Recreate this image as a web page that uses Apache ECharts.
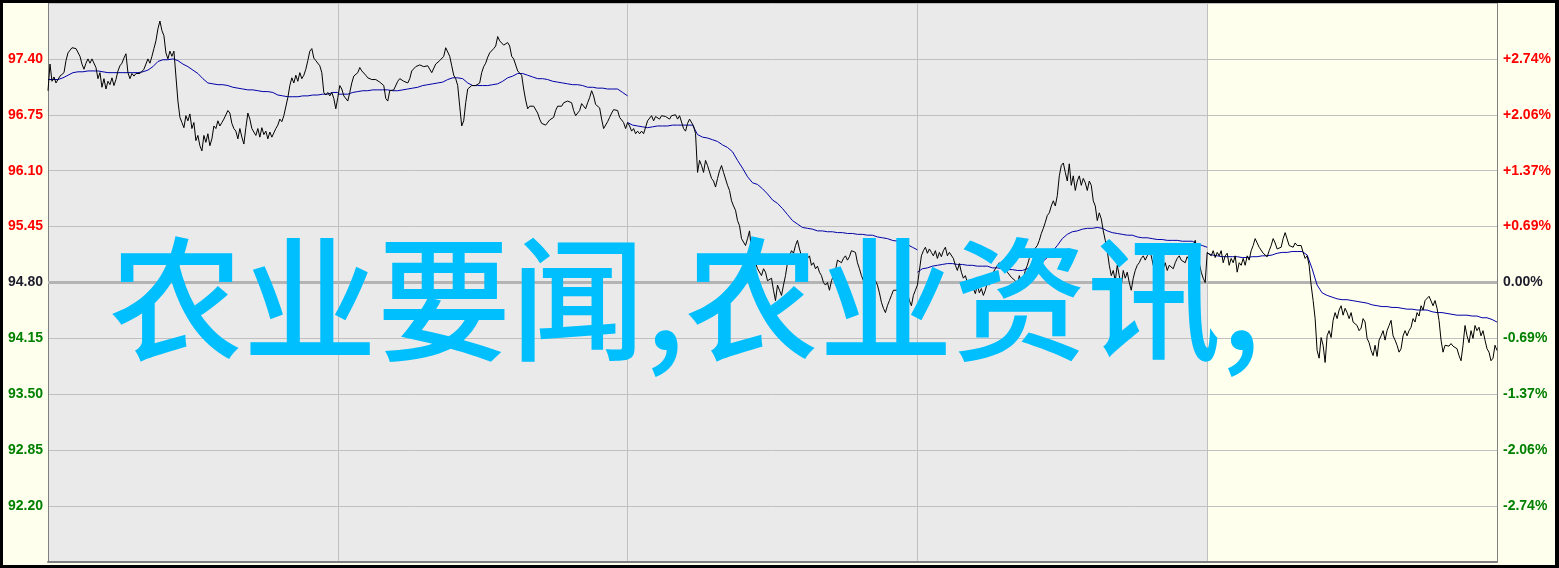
<!DOCTYPE html>
<html><head><meta charset="utf-8">
<script src="https://cdn.jsdelivr.net/npm/echarts@6/dist/echarts.min.js"></script>
<style>
html,body{margin:0;padding:0;background:#000;}
#frame{position:absolute;left:0;top:0;width:1559px;height:568px;background:#000;}
#chart{position:absolute;left:3px;top:3px;width:1552px;height:562px;background:#FFFFEE;}
</style></head><body>
<div id="frame"><div id="chart"></div></div>
<script>
const WATERMARK = '农业要闻,农业资讯,';
const PREV_CLOSE = 94.80;
const DAY_MINUTES = 240;
const PRICE_STEPS_PER_DAY = 145;
const AVG_STEPS_PER_DAY = 58;
const Y_MIN = 91.55, Y_MAX = 98.05, Y_STEP = 0.65;

const price_d1 = [97.03,97.34,97.14,97.19,97.12,97.12,97.20,97.18,97.24,97.38,
97.47,97.49,97.53,97.55,97.52,97.54,97.43,97.34,97.28,97.35,
97.40,97.35,97.40,97.38,97.30,97.17,97.24,97.07,97.17,97.05,
97.14,97.10,97.18,97.09,97.16,97.26,97.32,97.35,97.41,97.46,
97.24,97.17,97.23,97.20,97.23,97.23,97.23,97.23,97.28,97.34,
97.40,97.35,97.43,97.52,97.61,97.75,97.84,97.73,97.67,97.47,
97.40,97.49,97.43,97.49,97.47,96.91,96.72,96.66,96.60,96.74,
96.68,96.76,96.59,96.66,96.45,96.51,96.39,96.33,96.51,96.43,
96.53,96.39,96.47,96.62,96.59,96.68,96.62,96.66,96.70,96.72,
96.80,96.77,96.65,96.59,96.56,96.47,96.59,96.49,96.41,96.60,
96.77,96.70,96.59,96.61,96.51,96.59,96.49,96.60,96.52,96.56,
96.47,96.55,96.49,96.54,96.59,96.63,96.70,96.67,96.74,96.74,
96.95,97.09,97.18,97.12,97.21,97.14,97.24,97.17,97.21,97.28,
97.38,97.49,97.52,97.41,97.38,97.38,97.32,97.24,97.01,96.98,
97.01,96.97,97.01,96.94,96.82];
const price_d2 = [96.95,97.09,97.05,96.97,96.97,96.91,97.01,97.12,97.20,97.21,
97.24,97.30,97.26,97.25,97.21,97.18,97.17,97.16,97.16,97.16,
97.14,97.13,97.14,97.09,96.94,96.91,97.03,97.05,97.04,97.06,
97.14,97.17,97.18,97.14,97.14,97.12,97.17,97.26,97.28,97.31,
97.33,97.33,97.32,97.31,97.32,97.32,97.31,97.24,97.25,97.34,
97.35,97.38,97.40,97.43,97.53,97.54,97.43,97.32,97.21,97.17,
97.09,96.85,96.62,96.68,96.89,97.05,97.07,97.09,97.10,97.09,
97.07,97.12,97.24,97.31,97.35,97.42,97.47,97.48,97.52,97.55,
97.66,97.61,97.59,97.56,97.55,97.59,97.55,97.43,97.40,97.38,
97.26,97.24,97.21,97.05,96.92,96.82,96.85,96.87,96.85,96.83,
96.77,96.70,96.65,96.66,96.63,96.63,96.69,96.68,96.72,96.80,
96.85,96.83,96.85,96.89,96.90,96.91,96.92,96.89,96.80,96.74,
96.74,96.80,96.88,96.85,96.82,96.89,96.95,97.03,96.97,96.87,
96.85,96.83,96.70,96.59,96.61,96.67,96.72,96.77,96.81,96.83,
96.80,96.72,96.69,96.66,96.59];
const price_d3 = [96.66,96.62,96.56,96.59,96.53,96.56,96.53,96.56,96.53,96.55,
96.68,96.70,96.74,96.68,96.73,96.74,96.70,96.74,96.72,96.73,
96.74,96.70,96.74,96.73,96.75,96.70,96.74,96.74,96.59,96.56,
96.65,96.70,96.70,96.62,96.53,96.08,96.22,96.16,96.08,96.22,
96.16,96.18,96.01,95.98,95.91,96.01,96.10,96.16,96.08,96.10,
95.93,95.87,95.75,95.69,95.64,95.52,95.46,95.31,95.29,95.23,
95.31,95.40,95.17,95.11,95.03,94.96,94.94,94.88,94.96,94.92,
94.82,94.80,94.85,94.71,94.59,94.77,94.71,94.65,94.77,94.88,
95.03,95.11,95.17,95.14,95.23,95.29,95.19,95.11,95.08,95.06,
95.08,95.11,95.00,95.03,94.96,94.99,94.92,94.88,94.80,94.77,
94.80,94.71,94.82,94.88,94.94,95.06,95.08,95.03,95.08,95.11,
95.06,95.10,95.17,95.19,95.15,95.03,94.96,94.88,94.82,94.77,
94.82,94.79,94.80,94.85,94.82,94.77,94.68,94.57,94.50,94.45,
94.53,94.59,94.65,94.71,94.73,94.71,94.59,94.53,94.48,94.59,
94.68,94.59,94.53,94.65,94.71];
const price_d4 = [94.77,94.94,95.11,95.17,95.21,95.14,95.19,95.15,95.11,95.17,
95.08,95.15,95.10,95.17,95.21,95.11,95.15,95.17,95.08,95.00,
94.94,95.02,94.92,94.85,94.88,94.80,94.77,94.82,94.73,94.67,
94.77,94.68,94.73,94.65,94.71,94.80,94.77,94.85,94.92,94.96,
94.94,95.03,95.00,95.06,94.96,94.92,94.94,94.86,94.88,94.82,
94.77,94.88,94.80,94.85,94.94,95.00,95.08,95.11,95.17,95.19,
95.23,95.29,95.37,95.43,95.50,95.58,95.61,95.69,95.75,95.69,
95.81,96.04,96.16,96.19,96.08,95.98,96.18,95.93,96.04,95.87,
95.98,96.04,95.93,96.01,95.96,95.87,95.98,95.93,95.75,95.69,
95.52,95.61,95.54,95.40,95.29,95.17,95.00,94.88,94.94,94.82,
95.00,94.88,94.77,94.94,94.85,94.92,94.80,94.71,94.85,94.94,
95.00,95.03,95.08,95.11,95.06,95.11,95.15,95.11,95.00,95.08,
95.03,95.06,95.00,94.96,95.03,94.94,95.00,95.02,94.96,95.03,
95.08,95.11,95.06,95.08,95.03,95.10,95.06,95.08,95.23,95.29,
95.17,95.03,94.92,94.85,94.80];
const price_d5 = [95.15,95.17,95.11,95.17,95.09,95.15,95.11,95.17,95.03,95.11,
95.14,95.00,95.08,95.03,95.11,94.92,95.03,95.00,95.08,95.00,
95.11,95.06,95.17,95.23,95.31,95.26,95.21,95.23,95.14,95.15,
95.10,95.17,95.23,95.31,95.26,95.19,95.21,95.21,95.31,95.38,
95.40,95.23,95.25,95.21,95.26,95.23,95.21,95.23,95.15,95.08,
95.11,95.00,94.77,94.59,94.38,94.01,93.92,94.16,94.07,93.87,
94.18,94.24,94.16,94.36,94.45,94.38,94.48,94.53,94.42,94.50,
94.45,94.38,94.45,94.34,94.36,94.30,94.24,94.27,94.38,94.34,
94.15,94.10,94.01,93.95,94.07,93.94,94.13,94.18,94.24,94.13,
94.24,94.30,94.36,94.18,94.13,94.07,93.99,94.03,94.18,94.24,
94.18,94.24,94.28,94.38,94.34,94.45,94.41,94.53,94.48,94.59,
94.61,94.64,94.65,94.53,94.59,94.50,94.36,94.13,93.99,94.07,
94.08,94.06,94.09,94.06,94.08,94.03,93.95,93.89,94.07,94.30,
94.18,94.10,94.24,94.15,94.30,94.24,94.28,94.18,94.24,94.13,
94.03,93.99,93.89,93.92,94.07,94.01];

const avg_d1 = [97.16,97.16,97.16,97.18,97.21,97.24,97.25,97.25,97.26,97.26,
97.26,97.25,97.24,97.24,97.24,97.24,97.24,97.24,97.24,97.25,
97.27,97.31,97.37,97.39,97.39,97.40,97.38,97.34,97.31,97.27,
97.23,97.17,97.12,97.11,97.10,97.10,97.09,97.07,97.06,97.05,
97.04,97.04,97.03,97.02,97.02,97.01,96.98,96.97,96.96,96.96,
96.96,96.97,96.97,96.98,96.98,96.99,96.99,97.01,97.01];
const avg_d2 = [96.99,96.99,96.99,97.01,97.02,97.03,97.03,97.04,97.04,97.04,
97.04,97.03,97.03,97.04,97.05,97.06,97.07,97.09,97.10,97.11,
97.12,97.13,97.16,97.18,97.18,97.17,97.12,97.09,97.09,97.09,
97.09,97.10,97.11,97.14,97.18,97.20,97.23,97.23,97.21,97.19,
97.17,97.17,97.16,97.14,97.13,97.12,97.11,97.10,97.10,97.09,
97.07,97.07,97.06,97.06,97.05,97.05,97.05,97.01,96.97];
const avg_d3 = [96.66,96.63,96.62,96.61,96.60,96.61,96.62,96.62,96.62,96.63,
96.63,96.63,96.63,96.63,96.52,96.49,96.48,96.46,96.44,96.40,
96.37,96.32,96.22,96.13,96.03,95.96,95.94,95.89,95.83,95.76,
95.72,95.66,95.59,95.52,95.48,95.44,95.43,95.42,95.40,95.40,
95.39,95.39,95.38,95.38,95.37,95.37,95.36,95.36,95.35,95.35,
95.33,95.32,95.31,95.29,95.28,95.26,95.24,95.21,95.18];
const avg_d4 = [94.92,94.96,94.97,94.99,95.00,95.01,95.02,95.02,95.01,95.01,
95.00,95.00,94.99,94.99,94.99,94.97,94.97,94.96,94.95,94.95,
94.94,94.94,94.96,94.99,95.01,95.04,95.09,95.16,95.23,95.31,
95.36,95.39,95.40,95.42,95.43,95.43,95.44,95.43,95.40,95.38,
95.37,95.36,95.35,95.35,95.33,95.32,95.32,95.31,95.30,95.30,
95.29,95.29,95.29,95.28,95.28,95.28,95.25,95.23,95.21];
const avg_d5 = [95.14,95.12,95.11,95.10,95.10,95.10,95.10,95.09,95.09,95.10,
95.10,95.11,95.11,95.12,95.14,95.15,95.15,95.16,95.16,95.16,
95.12,94.96,94.77,94.68,94.65,94.63,94.61,94.60,94.60,94.59,
94.58,94.57,94.56,94.54,94.53,94.52,94.52,94.51,94.51,94.50,
94.49,94.49,94.48,94.48,94.48,94.46,94.45,94.45,94.44,94.43,
94.42,94.42,94.42,94.41,94.41,94.39,94.39,94.37,94.34];

const priceDays = [price_d1, price_d2, price_d3, price_d4, price_d5];
const avgDays = [avg_d1, avg_d2, avg_d3, avg_d4, avg_d5];
const NUM_DAYS = priceDays.length;

const priceData = [];
priceDays.forEach((arr, d) => arr.forEach((p, k) => {
  priceData.push([d * DAY_MINUTES + k * DAY_MINUTES / PRICE_STEPS_PER_DAY, p]);
}));
const avgData = [];
avgDays.forEach((arr, d) => {
  if (d > 0) avgData.push([d * DAY_MINUTES, '-']);
  arr.forEach((p, k) => avgData.push([d * DAY_MINUTES + k * DAY_MINUTES / AVG_STEPS_PER_DAY, p]));
});

const EPS = 1e-6;
function leftColor(v) {
  v = parseFloat(v);
  if (Math.abs(v - PREV_CLOSE) < EPS) return '#1c1c2c';
  return v > PREV_CLOSE ? '#ff0000' : '#008000';
}
function pctLabel(v) {
  v = parseFloat(v);
  const pct = (v - PREV_CLOSE) / PREV_CLOSE * 100;
  if (Math.abs(pct) < 0.005) return '0.00%';
  return (pct > 0 ? '+' : '') + pct.toFixed(2) + '%';
}
const labelFont = { fontFamily: '"Liberation Sans", Arial, sans-serif', fontWeight: 'bold', fontSize: 14 };

const chart = echarts.init(document.getElementById('chart'), null, { renderer: 'canvas' });
chart.setOption({
  animation: false,
  backgroundColor: '#FFFFEE',
  grid: { left: 45, right: 58, top: -1, bottom: 3, containLabel: false },
  xAxis: {
    type: 'value', min: 0, max: NUM_DAYS * DAY_MINUTES, interval: DAY_MINUTES,
    axisLabel: { show: false }, axisTick: { show: false },
    axisLine: { show: true, onZero: false, lineStyle: { color: '#808080', width: 2 } },
    splitLine: { show: true, lineStyle: { color: '#c0c0c0', width: 1 } }
  },
  yAxis: [{
    type: 'value', position: 'left', min: Y_MIN, max: Y_MAX, interval: Y_STEP,
    axisLine: { show: true, lineStyle: { color: '#808080', width: 1 } },
    axisTick: { show: false },
    axisLabel: Object.assign({ margin: 5, showMinLabel: false, showMaxLabel: false,
      formatter: v => Number(v).toFixed(2), color: leftColor }, labelFont),
    splitLine: { show: true, lineStyle: { color: '#c0c0c0', width: 1 } }
  }, {
    type: 'value', position: 'right', min: Y_MIN, max: Y_MAX, interval: Y_STEP,
    axisLine: { show: true, lineStyle: { color: '#808080', width: 1 } },
    axisTick: { show: false },
    axisLabel: Object.assign({ margin: 6, showMinLabel: false, showMaxLabel: false,
      formatter: pctLabel, color: leftColor }, labelFont),
    splitLine: { show: false }
  }],
  series: [{
    name: 'avg', type: 'line', data: avgData, showSymbol: false, symbol: 'none',
    connectNulls: false, z: 2,
    lineStyle: { color: '#0000a8', width: 1 },
    markArea: {
      silent: true, z: -1,
      data: [
        [{ xAxis: 0, itemStyle: { color: '#eaeaea' } }, { xAxis: (NUM_DAYS - 1) * DAY_MINUTES }],
        [{ xAxis: (NUM_DAYS - 1) * DAY_MINUTES, itemStyle: { color: '#FFFFEE' } }, { xAxis: NUM_DAYS * DAY_MINUTES }]
      ]
    },
    markLine: {
      silent: true, z: 1, symbol: ['none', 'none'], label: { show: false },
      lineStyle: { color: '#b4b4b4', width: 3, type: 'solid' },
      data: [{ yAxis: PREV_CLOSE }]
    }
  }, {
    name: 'price', type: 'line', data: priceData, showSymbol: false, symbol: 'none', z: 3,
    lineStyle: { color: '#000000', width: 1 }
  }],
  graphic: [{
    type: 'text', x: 682, y: 296, z: 100, silent: true,
    style: { text: WATERMARK, fill: '#00bfff', font: '500 134px "Noto Sans CJK SC"',
      align: 'center', verticalAlign: 'middle' }
  }]
});
</script>
</body></html>
